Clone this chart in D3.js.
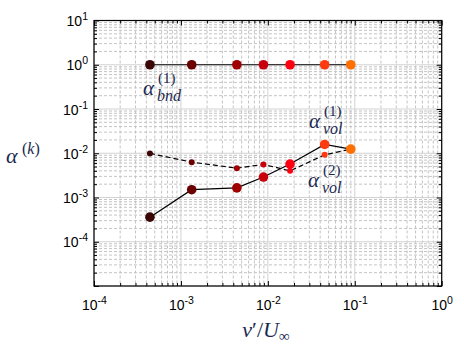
<!DOCTYPE html>
<html><head><meta charset="utf-8">
<script src="https://cdn.jsdelivr.net/npm/d3@7"></script>
<style>body{margin:0;background:#fff}svg{display:block}</style>
</head><body>
<script>
const xVals = [4.4e-4, 1.33e-3, 4.4e-3, 8.9e-3, 1.8e-2, 4.5e-2, 9.0e-2];
const bnd1 = [1, 1, 1, 1, 1, 1, 1];
const vol1 = [3.6e-4, 1.5e-3, 1.65e-3, 2.9e-3, 5.7e-3, 1.58e-2, 1.24e-2];
const vol2 = [9.9e-3, 6.3e-3, 4.6e-3, 5.6e-3, 4.0e-3, 9.2e-3, 1.24e-2];
const colors = ["#3a0606", "#6a0000", "#a00000", "#c8000c", "#ff0010", "#ff3a10", "#ff7000"];
const xTickExp = [-4, -3, -2, -1, 0];
const yTickExp = [-5, -4, -3, -2, -1, 0, 1];
const yLabelExp = [-4, -3, -2, -1, 0, 1];

const W = 464, H = 351;
const svg = d3.select("body").append("svg").attr("width", W).attr("height", H);
const L = 94, R = 441.7, T = 20.5, B = 286;
const x = d3.scaleLog().domain([1e-4, 1]).range([L, R]);
const y = d3.scaleLog().domain([1e-5, 10]).range([B, T]);

const minorX = [], minorY = [];
for (let e = -4; e < 0; e++) for (let m = 2; m <= 9; m++) minorX.push(m * Math.pow(10, e));
for (let e = -5; e < 1; e++) for (let m = 2; m <= 9; m++) minorY.push(m * Math.pow(10, e));
const majX = xTickExp.map(e => Math.pow(10, e));
const majY = yTickExp.map(e => Math.pow(10, e));

// grid
const g = svg.append("g");
g.selectAll(".mx").data(minorX).join("line").attr("x1", d => x(d)).attr("x2", d => x(d))
  .attr("y1", T).attr("y2", B).attr("stroke", "#c4c4c4").attr("stroke-dasharray", "3,2").attr("stroke-width", 1);
g.selectAll(".my").data(minorY).join("line").attr("y1", d => y(d)).attr("y2", d => y(d))
  .attr("x1", L).attr("x2", R).attr("stroke", "#c4c4c4").attr("stroke-dasharray", "3,2").attr("stroke-width", 1);
g.selectAll(".Mx").data(majX).join("line").attr("x1", d => x(d)).attr("x2", d => x(d))
  .attr("y1", T).attr("y2", B).attr("stroke", "#d2d2d2").attr("stroke-width", 1);
g.selectAll(".My").data(majY).join("line").attr("y1", d => y(d)).attr("y2", d => y(d))
  .attr("x1", L).attr("x2", R).attr("stroke", "#d2d2d2").attr("stroke-width", 1);

// axes ticks inward
function mk(axisFn, scale, vals, size, tx, ty) {
  const a = axisFn(scale).tickValues(vals).tickSizeInner(-size).tickSizeOuter(0).tickPadding(size + 6);
  a.tickFormat("");
  const gg = svg.append("g").attr("transform", `translate(${tx},${ty})`).call(a);
  gg.select(".domain").remove();
  gg.selectAll(".tick line").attr("stroke", "#000");
  return gg;
}
mk(d3.axisBottom, x, minorX, 3, 0, B);
mk(d3.axisTop, x, minorX, 3, 0, T);
mk(d3.axisLeft, y, minorY, 3, L, 0);
mk(d3.axisRight, y, minorY, 3, R, 0);
const xb = mk(d3.axisBottom, x, majX, 5, 0, B);
mk(d3.axisTop, x, majX, 5, 0, T);
const yl = mk(d3.axisLeft, y, majY, 5, L, 0);
mk(d3.axisRight, y, majY, 5, R, 0);

// tick labels with superscripts
const fam = "Liberation Sans, Arial, sans-serif";
xb.selectAll(".tick text").each(function(d) {
  const t = d3.select(this).text(null).attr("font-family", fam).attr("font-size", 14).attr("fill", "#000")
    .attr("dy", null).attr("y", 24).attr("text-anchor", "middle");
  t.append("tspan").text("10");
  t.append("tspan").text(Math.round(Math.log10(d))).attr("font-size", 10.5).attr("dy", -6);
});
yl.selectAll(".tick text").each(function(d) {
  const e = Math.round(Math.log10(d));
  const t = d3.select(this).text(null).attr("font-family", fam).attr("font-size", 14).attr("fill", "#000")
    .attr("dy", null).attr("y", 5).attr("x", -6).attr("text-anchor", "end");
  if (!yLabelExp.includes(e)) return;
  t.append("tspan").text("10");
  t.append("tspan").text(e).attr("font-size", 10.5).attr("dy", -6);
});

// frame
svg.append("rect").attr("x", L).attr("y", T).attr("width", R - L).attr("height", B - T)
  .attr("fill", "none").attr("stroke", "#000").attr("stroke-width", 1.2);

// lines and markers
const line = d3.line().x(d => x(d[0])).y(d => y(d[1]));
function series(vals, dash, r) {
  const pts = xVals.map((v, i) => [v, vals[i]]);
  svg.append("path").datum(pts).attr("d", line).attr("fill", "none").attr("stroke", "#000")
    .attr("stroke-width", 1.2).attr("stroke-dasharray", dash);
  svg.append("g").selectAll("circle").data(pts).join("circle")
    .attr("cx", d => x(d[0])).attr("cy", d => y(d[1])).attr("r", r).attr("fill", (d, i) => colors[i]);
}
series(vol2, "5,3", 3);
series(vol1, null, 4.8);
series(bnd1, null, 4.8);

// math labels
const mf = "Liberation Serif, Times New Roman, serif";
const mc = "#1a2850";
function mathLabel(px, py, sup, sub) {
  const t = svg.append("text").attr("font-family", mf).attr("fill", mc).attr("font-style", "italic");
  t.append("tspan").attr("x", px).attr("y", py).attr("font-size", 21).text("α");
  t.append("tspan").attr("x", px + 15).attr("y", py - 12).attr("font-size", 15).attr("font-style", "normal").text(sup);
  t.append("tspan").attr("x", px + 14).attr("y", py + 6).attr("font-size", 16).text(sub);
}
mathLabel(143, 95, "(1)", "bnd");
mathLabel(309, 128, "(1)", "vol");
mathLabel(308, 187, "(2)", "vol");

// y label
const yt = svg.append("text").attr("font-family", mf).attr("fill", mc);
yt.append("tspan").attr("x", 6).attr("y", 163).attr("font-size", 22).attr("font-style", "italic").text("α");
yt.append("tspan").attr("x", 22).attr("y", 154).attr("font-size", 16).text("(");
yt.append("tspan").attr("font-size", 16).attr("font-style", "italic").text("k");
yt.append("tspan").attr("font-size", 16).text(")");

// x label
const xt = svg.append("text").attr("font-family", mf).attr("fill", mc).attr("font-size", 22)
  .attr("x", 266).attr("y", 337).attr("text-anchor", "middle");
xt.append("tspan").attr("font-style", "italic").text("v");
xt.append("tspan").text("′/");
xt.append("tspan").attr("font-style", "italic").text("U");
xt.append("tspan").attr("font-size", 15).attr("dy", 4).text("∞");
</script>
</body></html>
